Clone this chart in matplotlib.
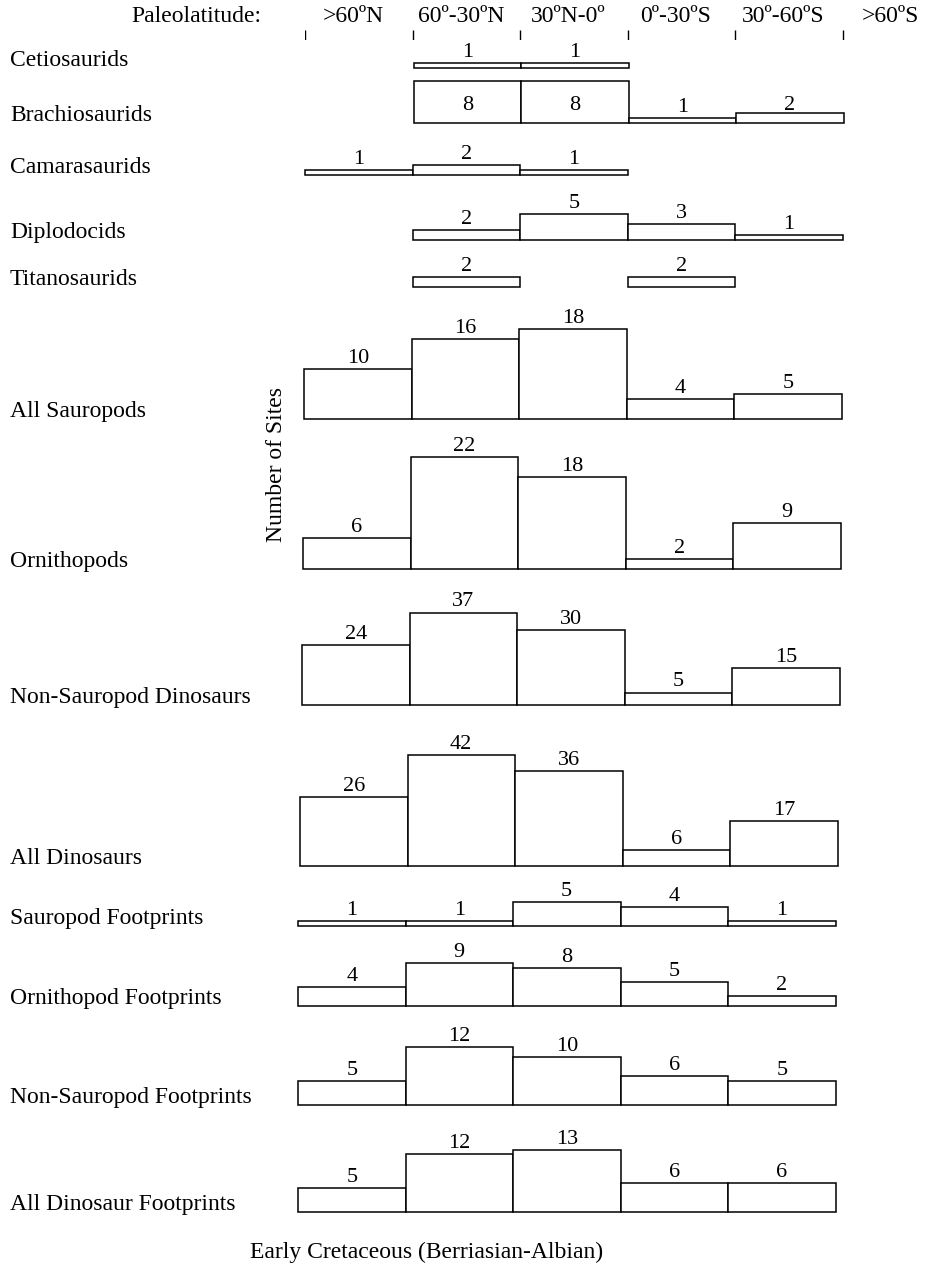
import numpy as np
import matplotlib.pyplot as plt

# Early Cretaceous site counts per paleolatitude band (None = no bar)
lat_labels = [">60ºN", "60º-30ºN", "30ºN-0º", "0º-30ºS", "30º-60ºS", ">60ºS"]
row_names = [
    "Cetiosaurids", "Brachiosaurids", "Camarasaurids", "Diplodocids",
    "Titanosaurids", "All Sauropods", "Ornithopods", "Non-Sauropod Dinosaurs",
    "All Dinosaurs", "Sauropod Footprints", "Ornithopod Footprints",
    "Non-Sauropod Footprints", "All Dinosaur Footprints",
]
cetiosaurids = [None, 1, 1, None, None]
brachiosaurids = [None, 8, 8, 1, 2]
camarasaurids = [1, 2, 1, None, None]
diplodocids = [None, 2, 5, 3, 1]
titanosaurids = [None, 2, None, 2, None]
all_sauropods = [10, 16, 18, 4, 5]
ornithopods = [6, 22, 18, 2, 9]
non_sauropod_dinos = [24, 37, 30, 5, 15]
all_dinosaurs = [26, 42, 36, 6, 17]
sauropod_fp = [1, 1, 5, 4, 1]
ornithopod_fp = [4, 9, 8, 5, 2]
non_sauropod_fp = [5, 12, 10, 6, 5]
all_dino_fp = [5, 12, 13, 6, 6]

rows = [cetiosaurids, brachiosaurids, camarasaurids, diplodocids, titanosaurids,
        all_sauropods, ornithopods, non_sauropod_dinos, all_dinosaurs,
        sauropod_fp, ornithopod_fp, non_sauropod_fp, all_dino_fp]

# layout (pixels): baseline y, px per site, left edge of first bin
baselines = [68, 123, 175, 240, 287, 419, 569, 705, 866, 926, 1006, 1105, 1212]
px_per_unit = [5.2, 5.2, 5.2, 5.2, 5.2, 5.0, 5.1, 2.5, 2.65, 4.8, 4.8, 4.8, 4.8]
left_edge = [306, 306, 305, 305, 305, 304, 303, 302, 300, 298, 298, 298, 298]
label_cap = {1: 13}   # Brachiosaurids numbers sit inside the tall boxes

W, H = 926, 1266
STEP = 107.5
GAP = 6

plt.rcParams['font.family'] = ['Liberation Serif', 'DejaVu Serif']
fig = plt.figure(figsize=(W / 100, H / 100), dpi=100)


def px_axes(left, bottom, width, height):
    return fig.add_axes([left / W, 1 - bottom / H, width / W, height / H])


for i, vals in enumerate(rows):
    base = baselines[i]
    scale = px_per_unit[i]
    ax = px_axes(left_edge[i], base, W - left_edge[i], 150)
    ax.set_xlim(0, (W - left_edge[i]) / STEP)
    ax.set_ylim(0, 150 / scale)
    ax.axis('off')
    for j, v in enumerate(vals):
        if v is None:
            continue
        ax.bar(j + 0.5, v, width=1, color='white', edgecolor='black',
               linewidth=1.1, clip_on=False)
        ty = v + GAP / scale
        if i in label_cap:
            ty = min(ty, label_cap[i] / scale)
        ax.text(j + 0.5, ty, str(v), ha='center', va='baseline', fontsize=16)
    fig.text(10 / W, 1 - (base - 2) / H, row_names[i], ha='left',
             va='baseline', fontsize=17)

# header with paleolatitude bands
hax = px_axes(305, 40, W - 305, 40)
hax.set_xlim(0, (W - 305) / STEP)
hax.set_ylim(0, 40)
hax.axis('off')
hax.vlines(np.arange(len(lat_labels)), 0, 10, color='black', linewidth=1)
for k, lab in enumerate(lat_labels):
    hax.text(k + 0.45, 23, lab, ha='center', va='center', fontsize=17)
fig.text(196 / W, 1 - 17 / H, "Paleolatitude:", ha='center', va='center',
         fontsize=17)

fig.text(276 / W, 1 - 465 / H, "Number of Sites", rotation=90,
         ha='center', va='center', fontsize=17)
fig.text(250 / W, 1 - 1252 / H, "Early Cretaceous (Berriasian-Albian)",
         ha='left', va='center', fontsize=17)

fig.savefig("out.png", dpi=100)
